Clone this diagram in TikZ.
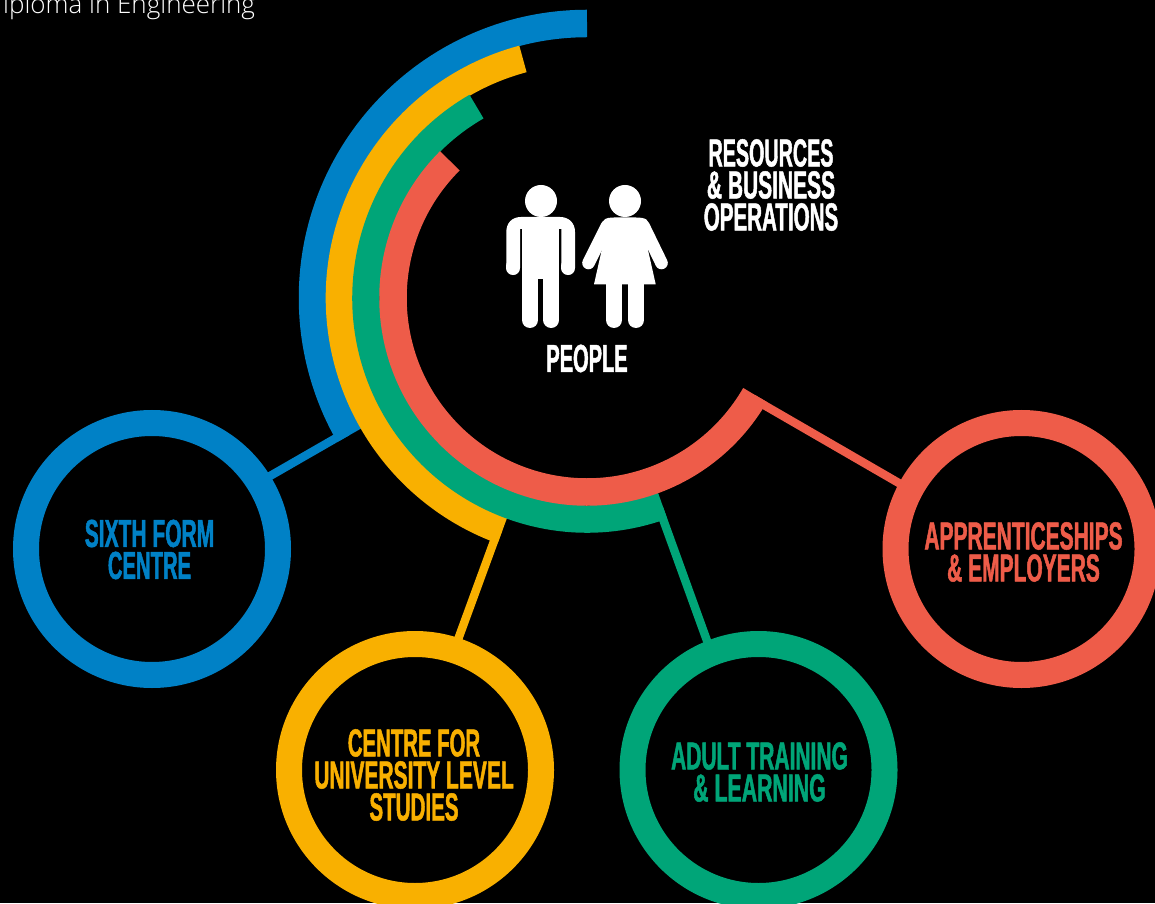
\documentclass[tikz,border=0pt]{standalone}
\usepackage{fontspec}
\usetikzlibrary{calc}
\newfontfamily\cond[FakeStretch=0.538,FakeBold=1.2]{Liberation Sans Bold}
\newfontfamily\thinfont{Open Sans Light}
\definecolor{cblue}{HTML}{0081C6}
\definecolor{cgold}{HTML}{F9B000}
\definecolor{cgreen}{HTML}{00A578}
\definecolor{cred}{HTML}{EE5C49}
\newcommand{\sx}[2]{\scalebox{#1}[1]{#2}}
\tikzset{
  ring/.style={circle,draw=#1,fill=black,line width=26pt,minimum size=252pt,inner sep=0pt},
  ringtext/.style={text=#1,inner sep=0pt,align=center,font=\cond\fontsize{39}{32}\selectfont},
  label/.style={text=white,inner sep=0pt,align=center,font=\cond\fontsize{39}{32}\selectfont},
  band/.style={draw=#1,line width=27.5pt,line cap=butt},
  spoke/.style={draw=#1,line width=8.4pt,line cap=butt,shorten >=-8pt},
  figure part/.style={fill=white,draw=none},
  limb/.style={draw=white,line cap=round,line join=round}
}
\begin{document}
\begin{tikzpicture}[x=1pt,y=1pt]
\useasboundingbox (0,0) rectangle (1155,903);
\fill[black] (0,0) rectangle (1155,903);
\clip (0,0) rectangle (1155,903);
\coordinate (hub) at (587,605);
% rings
\node[ring=cblue] (ringBlue) at (152,354) {};
\node[ring=cgold] (ringGold) at (415,133) {};
\node[ring=cgreen] (ringGreen) at (758.5,133) {};
\node[ring=cred] (ringRed) at (1021.5,354) {};
\node[ringtext=cblue] (textBlue) at (149.5,353.5) {SIXTH FORM\\\sx{.965}{CENTRE}};
\node[ringtext=cgold] (textGold) at (414,128) {\sx{.97}{CENTRE FOR}\\UNIVERSITY LEVEL\\\sx{.98}{STUDIES}};
\node[ringtext=cgreen] (textGreen) at (759.5,131) {ADULT TRAINING\\\sx{1.015}{\&~LEARNING}};
\node[ringtext=cred] (textRed) at (1023.5,351) {APPRENTICESHIPS\\\&~EMPLOYERS};
% arcs and spokes
\coordinate (footBlue) at ($(hub)+(210:274.5)$);
\coordinate (footGold) at ($(hub)+(250:247.5)$);
\coordinate (footGreen) at ($(hub)+(290:221)$);
\coordinate (footRed) at ($(hub)+(330:194)$);
\draw[band=cblue] ($(hub)+(90:274.5)$) arc[start angle=90,end angle=210,radius=274.5];
\draw[spoke=cblue] ([shift={(120:4.2)}]footBlue) -- ([shift={(120:4.2)}]ringBlue.30);
\draw[band=cgold] ($(hub)+(105:247.5)$) arc[start angle=105,end angle=250,radius=247.5];
\draw[spoke=cgold] ([shift={(160:4.2)}]footGold) -- ([shift={(160:4.2)}]ringGold.70);
\draw[band=cgreen] ($(hub)+(120:221)$) arc[start angle=120,end angle=290,radius=221];
\draw[spoke=cgreen] ([shift={(200:4.2)}]footGreen) -- ([shift={(200:4.2)}]ringGreen.110);
\draw[band=cred] ($(hub)+(135:194)$) arc[start angle=135,end angle=330,radius=194];
\draw[spoke=cred] ([shift={(240:4.2)}]footRed) -- ([shift={(240:4.2)}]ringRed.150);
% labels
\node[label] (resources) at (771,718) {\sx{.94}{RESOURCES}\\\&~BUSINESS\\\sx{.98}{OPERATIONS}};
\node[label] (people) at (587,544.5) {\sx{.955}{PEOPLE}};
\node[anchor=base west,inner sep=0pt,text=white,font=\thinfont\fontsize{26}{26}\selectfont] (diploma) at (3,889.5) {iploma in Engineering};
% people
\begin{scope}[yshift=903pt,y=-1pt]
  % man
  \fill[figure part] (541,201) circle[radius=16];
  \fill[figure part] (522,229) rectangle (559.3,279.3);
  \draw[limb,line width=16pt] (530,280) -- (530,320);
  \draw[limb,line width=16pt] (551.3,280) -- (551.3,320);
  \fill[figure part] (506.3,268) -- (506.3,232) .. controls (506.3,223) and (512,217) .. (521,217) -- (560,217) .. controls (569,217) and (575,223) .. (575,232) -- (575,268) -- (561.3,268) -- (561.3,229) -- (520,229) -- (520,268) -- cycle;
  \draw[limb,line width=13.7pt] (513.15,266) -- (513.15,268.2);
  \draw[limb,line width=13.7pt] (568.15,266) -- (568.15,268.2);
  % woman
  \fill[figure part] (625,201) circle[radius=16];
  \fill[figure part] (604,220) .. controls (606,218) and (610,217.5) .. (614,217.5) -- (636,217.5) .. controls (640,217.5) and (645,218) .. (647,220) -- (648,250) -- (655.7,284.3) -- (594,284.3) -- (601.7,250) -- cycle;
  \draw[limb,line width=12.6pt] (607,226) -- (588.5,263);
  \draw[limb,line width=12.6pt] (643.5,226) -- (661.5,263);
  \draw[limb,line width=16pt] (614,284) -- (614,320);
  \draw[limb,line width=16pt] (636,284) -- (636,320);
\end{scope}
\end{tikzpicture}
\end{document}
